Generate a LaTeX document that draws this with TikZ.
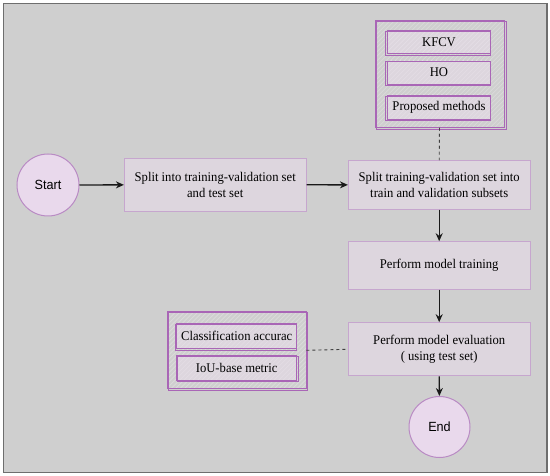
\documentclass[tikz,border=0pt]{standalone}
\usepackage{fontspec}
\setmainfont[FakeStretch=0.95]{Liberation Serif}
\setsansfont[FakeStretch=0.95]{Liberation Sans}
\usetikzlibrary{arrows.meta}
\definecolor{bg}{HTML}{CFCFCF}
\definecolor{boxfill}{HTML}{DDD6DE}
\definecolor{boxline}{HTML}{C6A6CE}
\definecolor{circfill}{HTML}{E9D9EC}
\definecolor{circline}{HTML}{B98BC4}
\definecolor{grpline}{HTML}{A966B6}
\definecolor{hatch}{HTML}{DCDCDC}
\definecolor{hatchb}{HTML}{E4DEE6}
\definecolor{frame}{HTML}{6E6E6E}
\tikzset{
  x=1pt, y=-1pt,
  txt/.style={font=\fontsize{13.3}{16}\selectfont, align=center, text=black},
  stepbox/.style={txt, draw=boxline, line width=0.9pt, fill=boxfill, rectangle, inner sep=0pt},
  termc/.style={circle, draw=circline, line width=1pt, fill=circfill, minimum size=62pt, inner sep=0pt,
    font=\sffamily\fontsize{13.3}{16}\selectfont},
  hatched/.style={path picture={
    \foreach \k in {-150,-145.5,...,150}
      \draw[#1, line width=0.6pt] ([xshift=\k pt]path picture bounding box.south west) -- ++(160,-160);}},
  grp/.style={rectangle, inner sep=0pt, draw=grpline, line width=0.9pt, fill=bg, hatched=hatch},
  item/.style={txt, rectangle, inner sep=0pt, draw=grpline, line width=0.9pt, fill=boxfill, hatched=hatchb},
  sketch/.style={draw=grpline, line width=0.7pt},
  flow/.style={draw=black!90, line width=1.3pt, -{Stealth[length=8pt,width=7pt]}},
  link/.style={draw=black!75, line width=0.9pt, dash pattern=on 3pt off 3pt},
}
\begin{document}
\begin{tikzpicture}
\useasboundingbox (0,0) rectangle (550,476);
\fill[white] (0,0) rectangle (550,476);
\draw[frame, line width=1.6pt, fill=bg] (3.5,3.5) rectangle (547,472.5);

% group 1
\node[grp, minimum width=129pt, minimum height=106.6pt] (g1) at (439.5,74) {};
\draw[sketch] ([shift={(1.4,1.3)}]g1.north west) rectangle ([shift={(1.4,1.3)}]g1.south east);
\node[item, minimum width=103.4pt, minimum height=22.6pt] (kfcv) at (439,42) {KFCV};
\node[item, minimum width=103.4pt, minimum height=23pt] (ho) at (439,72.5) {HO};
\node[item, minimum width=103.4pt, minimum height=24pt] (pm) at (439,107) {Proposed methods};

% group 2
\node[grp, minimum width=138.3pt, minimum height=77.3pt] (g2) at (236.8,350.3) {};
\draw[sketch] ([shift={(1.2,1.4)}]g2.north west) rectangle ([shift={(1.2,1.4)}]g2.south east);
\node[item, minimum width=120pt, minimum height=25pt] (ca) at (236.7,335.8) {Classification accurac};
\node[item, minimum width=120pt, minimum height=24.7pt] (iou) at (236.7,367.7) {IoU-base metric};

% sketchy second strokes of the items
\foreach \n/\dx/\dy in {kfcv/-1.2/1.3, ho/-1.3/1.2, pm/-1.1/1.4, ca/-1.2/1.3, iou/1.3/1.2}{
  \draw[sketch] ([shift={(\dx,\dy)}]\n.north west) rectangle ([shift={(\dx,\dy)}]\n.south east);
}

% main flow
\node[termc] (start) at (48,185) {Start};
\node[stepbox, minimum width=181.7pt, minimum height=52.7pt] (b1) at (215.2,184.7) {Split into training-validation set\\and test set};
\node[stepbox, minimum width=181.7pt, minimum height=48.6pt] (b2) at (439.2,185) {Split training-validation set into\\train and validation subsets};
\node[stepbox, minimum width=181.7pt, minimum height=47.6pt] (b3) at (439.2,265.5) {Perform model training};
\node[stepbox, minimum width=181.7pt, minimum height=53.3pt] (b4) at (439.2,349.3) {Perform model evaluation\\( using test set)};
\node[termc, minimum size=61pt] (end) at (439.5,427) {End};

\draw[flow] (start) -- (b1);
\draw[flow] (b1) -- (b2);
\draw[flow] (b2) -- (b3);
\draw[flow] (b3) -- (b4);
\draw[flow] (b4) -- (end);
\draw[link] (g1.south) -- (b2.north);
\draw[link] (g2.east) -- (b4.west);
\end{tikzpicture}
\end{document}
